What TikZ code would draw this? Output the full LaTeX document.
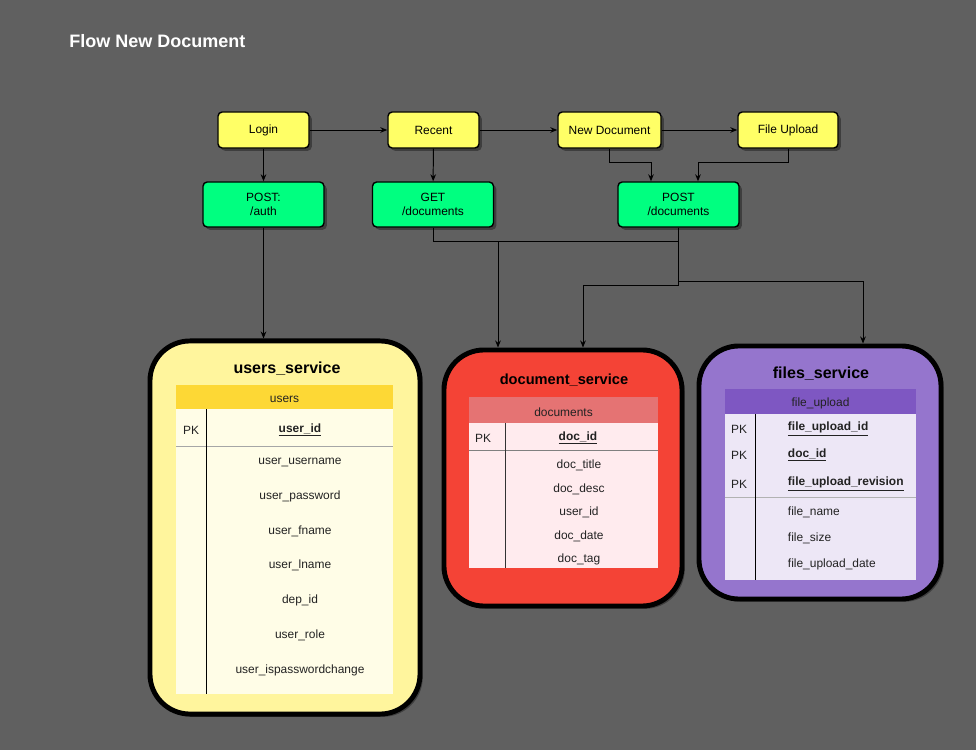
\documentclass[tikz,border=0pt]{standalone}
\usepackage{fontspec}
\setmainfont{Liberation Sans}
\usetikzlibrary{arrows.meta}
\usetikzlibrary{shadows}
\definecolor{bg}{HTML}{606060}
\definecolor{scryellow}{HTML}{FFFF66}
\definecolor{apigreen}{HTML}{00FF80}
\definecolor{usersfill}{HTML}{FFF59D}
\definecolor{usershead}{HTML}{FDD835}
\definecolor{usersbody}{HTML}{FFFDE7}
\definecolor{docfill}{HTML}{F44336}
\definecolor{dochead}{HTML}{E57373}
\definecolor{docbody}{HTML}{FFEBEE}
\definecolor{filefill}{HTML}{9575CD}
\definecolor{filehead}{HTML}{7E57C2}
\definecolor{filebody}{HTML}{EDE7F6}
\definecolor{txt}{HTML}{222222}
\tikzset{
	shade box/.style={drop shadow={shadow xshift=2pt,shadow yshift=-2pt,opacity=0.35,fill=black}},
	screen/.style={draw,line width=1pt,rounded corners=3pt,fill=scryellow,inner sep=0pt,minimum height=0.9cm,font=\fontsize{8.5}{10}\selectfont,shade box},
	api/.style={draw,line width=1pt,rounded corners=3pt,fill=apigreen,inner sep=0pt,minimum width=3.025cm,minimum height=1.125cm,align=center,font=\fontsize{8.5}{10}\selectfont,shade box},
	service/.style={draw,line width=3.5pt,rounded corners=1cm,inner sep=0pt,shade box},
	svctitle/.style={font=\fontsize{11.4}{13}\selectfont\bfseries},
	cell/.style={font=\fontsize{8.5}{10}\selectfont,text=txt,yshift=-0.05cm},
	arr/.style={-{Stealth[length=5pt,width=4pt]},line width=0.7pt},
	link/.style={line width=0.7pt}
}
\begin{document}
\begin{tikzpicture}[x=0.025cm,y=-0.025cm]
	\fill[bg] (0,0) rectangle (976,750);
	\useasboundingbox (0,0) rectangle (976,750);
	\node[anchor=west,inner sep=0pt,text=white,font=\fontsize{12.8}{15}\selectfont\bfseries] (title) at (69,41) {Flow New Document};
	\node[screen,minimum width=2.275cm] (login) at (263.5,130) {Login};
	\node[screen,minimum width=2.275cm] (recent) at (433.5,130) {Recent};
	\node[screen,minimum width=2.575cm] (newdoc) at (609.5,130) {New Document};
	\node[screen,minimum width=2.5cm] (fileup) at (788,130) {File Upload};
	\node[api] (auth) at (263.5,204.5) {POST:\\/auth};
	\node[api] (get) at (433,204.5) {GET\\/documents};
	\node[api] (post) at (678.5,204.5) {POST\\/documents};
	\node[service,fill=usersfill,minimum width=6.75cm,minimum height=9.325cm] (userssvc) at (285,527.5) {};
	\node[service,fill=docfill,minimum width=5.95cm,minimum height=6.4cm] (docsvc) at (563,478) {};
	\node[service,fill=filefill,minimum width=6.05cm,minimum height=6.325cm] (filesvc) at (820,472.5) {};
	\coordinate (nd1) at (651,162);
	\coordinate (fu1) at (698,162);
	\coordinate (g1) at (498,241);
	\coordinate (p1) at (583,285);
	\coordinate (p2) at (863,281);
	\draw[arr] (login) -- (recent);
	\draw[arr] (recent) -- (newdoc);
	\draw[arr] (newdoc) -- (fileup);
	\draw[arr] (login) -- (auth);
	\draw[arr] (recent) -- (get);
	\draw[arr] (newdoc.south) |- (nd1) -- (nd1 |- post.north);
	\draw[arr] (fileup.south) |- (fu1) -- (fu1 |- post.north);
	\draw[arr] (auth.south) -- (auth.south |- userssvc.north);
	\draw[arr] (get.south) |- (g1) -- (g1 |- docsvc.north);
	\draw[link] (post.south) |- (g1);
	\draw[arr] (post.south) |- (p1) -- (p1 |- docsvc.north);
	\draw[arr] (post.south) |- (p2) -- (p2 |- filesvc.north);
	\node[svctitle] (ustitle) at (287,369) {users\_service};
	\fill[usershead] (176,385) rectangle (393,409);
	\fill[usersbody] (176,409) rectangle (393,694);
	\draw[gray!70,line width=0.6pt] (176,446) -- (393,446);
	\draw[black,line width=0.6pt] (206,409) -- (206,694);
	\node[cell] (ushead) at (284.5,397) {users};
	\node[cell] (upk) at (191,428) {PK};
	\node[cell,font=\fontsize{8.5}{10}\selectfont\bfseries] (uid) at (300,428) {\underline{user\_id}};
	\foreach \t/\y [count=\i] in {user\_username/460,user\_password/494,user\_fname/529,user\_lname/563,dep\_id/598,user\_role/633,user\_ispasswordchange/668}
		\node[cell] (urow\i) at (300,\y) {\t};
	\node[svctitle,font=\fontsize{10.4}{12}\selectfont\bfseries] (dstitle) at (564,380) {document\_service};
	\fill[dochead] (469,397) rectangle (658,423);
	\fill[docbody] (469,423) rectangle (658,568);
	\draw[gray,line width=0.6pt] (469,450) -- (658,450);
	\draw[black!80,line width=0.6pt] (505,423) -- (505,568);
	\node[cell] (dhead) at (563.5,410) {documents};
	\node[cell] (dpk) at (483,436) {PK};
	\node[cell,font=\fontsize{8.5}{10}\selectfont\bfseries] (did) at (578,436) {\underline{doc\_id}};
	\foreach \t/\y [count=\i] in {doc\_title/463,doc\_desc/487,user\_id/510,doc\_date/534,doc\_tag/557}
		\node[cell] (drow\i) at (579,\y) {\t};
	\node[svctitle] (fstitle) at (821,374) {files\_service};
	\fill[filehead] (725,389) rectangle (916,414);
	\fill[filebody] (725,414) rectangle (916,580);
	\draw[gray!60,line width=0.6pt] (725,497) -- (916,497);
	\draw[black,line width=0.6pt] (755,414) -- (755,580);
	\node[cell] (fhead) at (820.5,401) {file\_upload};
	\foreach \t/\y [count=\i] in {file\_upload\_id/427,doc\_id/453,file\_upload\_revision/482}{
		\node[cell] (fpk\i) at (739,\y) {PK};
		\node[cell,anchor=west,font=\fontsize{8.5}{10}\selectfont\bfseries] (fid\i) at (783,\y) {\underline{\t}};
	}
	\foreach \t/\y [count=\i] in {file\_name/510,file\_size/536,file\_upload\_date/562}
		\node[cell,anchor=west] (frow\i) at (783,\y) {\t};
\end{tikzpicture}
\end{document}
